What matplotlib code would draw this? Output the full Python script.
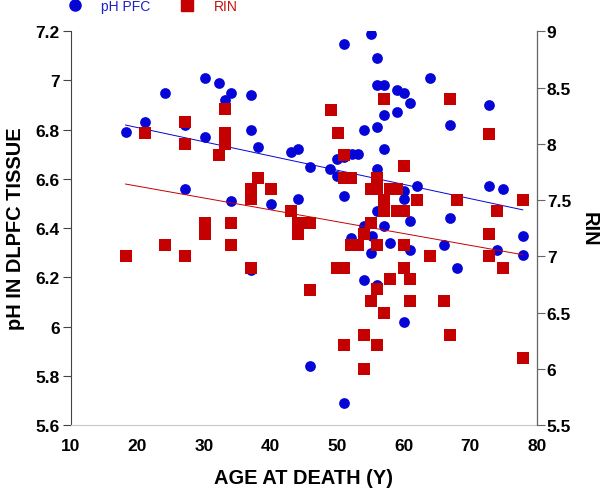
import numpy as np
import matplotlib
matplotlib.use('Agg')
import matplotlib.pyplot as plt
from matplotlib.lines import Line2D

plt.rcParams['font.family'] = ['Liberation Sans', 'DejaVu Sans']

# pH in DLPFC tissue vs age at death
ph_age = [18.2, 21.2, 24.2, 27.1, 27.1, 30.1, 30.1, 32.2, 33.1, 34.1, 34.1, 37.1, 37.1, 38.1,
          37.1, 40.1, 43.1, 44.1, 44.1, 46.0, 46.0, 49.0, 50.0, 50.0, 51.1, 51.1, 51.1, 51.1,
          52.2, 53.2, 52.1, 54.1, 54.1, 54.1, 55.1, 55.2, 55.1, 56.0, 56.0, 56.0, 56.0, 56.0,
          56.0, 57.1, 57.1, 57.0, 57.0, 58.0, 59.0, 59.0, 60.0, 60.0, 60.0, 60.0, 61.0, 61.0,
          61.0, 62.0, 64.0, 66.0, 67.0, 67.0, 68.0, 72.9, 72.9, 74.0, 75.0, 77.9, 77.9]
ph_val = [6.79, 6.83, 6.95, 6.82, 6.56, 7.01, 6.77, 6.99, 6.92, 6.95, 6.51, 6.94, 6.80, 6.73,
          6.23, 6.50, 6.71, 6.72, 6.52, 6.65, 5.84, 6.64, 6.68, 6.61, 6.69, 6.53, 7.15, 5.69,
          6.70, 6.70, 6.36, 6.80, 6.41, 6.19, 7.19, 6.37, 6.30, 7.09, 6.98, 6.81, 6.64, 6.47,
          6.17, 6.98, 6.86, 6.72, 6.41, 6.34, 6.96, 6.87, 6.95, 6.55, 6.52, 6.02, 6.91, 6.43,
          6.31, 6.57, 7.01, 6.33, 6.82, 6.44, 6.24, 6.90, 6.57, 6.31, 6.56, 6.37, 6.29]

# RIN vs age at death
rin_age = [18.2, 21.2, 24.1, 27.1, 27.1, 27.1, 30.1, 30.1, 32.2, 33.1, 33.1, 33.1, 34.1, 34.1,
           37.1, 37.1, 37.1, 38.1, 40.1, 43.0, 44.1, 44.1, 46.0, 46.0, 49.1, 50.1, 50.0, 51.1,
           51.1, 51.1, 51.1, 52.1, 52.1, 53.1, 54.1, 54.1, 54.1, 55.1, 55.1, 55.1, 56.0, 56.0,
           56.0, 56.0, 56.0, 57.0, 57.0, 57.0, 57.0, 58.0, 58.0, 59.0, 59.0, 60.0, 60.0, 60.0,
           60.0, 61.0, 61.0, 62.0, 64.0, 66.0, 67.0, 67.0, 68.0, 72.9, 72.9, 72.9, 74.0, 74.9,
           77.9, 77.9]
rin_val = [7.00, 8.10, 7.10, 8.19, 8.00, 7.00, 7.30, 7.20, 7.90, 8.31, 8.10, 8.00, 7.30, 7.10,
           7.60, 7.51, 6.90, 7.70, 7.60, 7.40, 7.30, 7.20, 7.30, 6.70, 8.30, 8.10, 6.90, 7.90,
           7.70, 6.90, 6.21, 7.70, 7.10, 7.10, 7.20, 6.30, 6.00, 7.60, 7.30, 6.60, 7.70, 7.60,
           7.10, 6.71, 6.21, 8.40, 7.50, 7.40, 6.50, 7.60, 6.80, 7.60, 7.40, 7.80, 7.40, 7.10,
           6.90, 6.80, 6.60, 7.50, 7.00, 6.60, 8.40, 6.30, 7.50, 8.09, 7.20, 7.00, 7.40, 6.90,
           7.50, 6.10]

ph_ticks = [5.6, 5.8, 6, 6.2, 6.4, 6.6, 6.8, 7, 7.2]
rin_ticks = [5.5, 6, 6.5, 7, 7.5, 8, 8.5, 9]
age_ticks = [10, 20, 30, 40, 50, 60, 70, 80]

blue = '#0505d8'
red = '#c40000'

fig = plt.figure(figsize=(6, 4.89), dpi=100)
ax = fig.add_axes([0.1183, 0.1288, 0.7762, 0.8052])
ax2 = ax.twinx()

ax.scatter(ph_age, ph_val, s=60, color=blue, marker='o', linewidths=0, zorder=3)
ax2.scatter(rin_age, rin_val, s=70, color=red, marker='s', linewidths=0, zorder=3)

# linear fits
xs = np.array([min(ph_age), max(ph_age)])
k, b = np.polyfit(ph_age, ph_val, 1)
ax.plot(xs, k * xs + b, color=blue, lw=0.7, zorder=4)
xs2 = np.array([min(rin_age), max(rin_age)])
k2, b2 = np.polyfit(rin_age, rin_val, 1)
ax2.plot(xs2, k2 * xs2 + b2, color=red, lw=0.7, zorder=2)

ax.set_xlim(10, 80)
ax.set_ylim(5.6, 7.2)
ax2.set_ylim(5.5, 9)
ax.set_xticks(age_ticks)
ax.set_yticks(ph_ticks)
ax.set_yticklabels(['%g' % t for t in ph_ticks])
ax2.set_yticks(rin_ticks)
ax2.set_yticklabels(['%g' % t for t in rin_ticks])

for a in (ax, ax2):
    a.spines['top'].set_visible(False)
    a.tick_params(labelsize=12.5)
    for lab in a.get_xticklabels() + a.get_yticklabels():
        lab.set_fontweight('bold')
ax.spines['left'].set_color('#444444')
ax.spines['bottom'].set_color('#c8c8c8')
ax2.spines['right'].set_color('#666666')
ax2.spines['left'].set_visible(False)
ax2.spines['bottom'].set_visible(False)
ax.tick_params(axis='x', length=0, pad=9)
ax.tick_params(axis='y', length=5.5, color='#444444', pad=2.5)
ax2.tick_params(axis='y', length=5.5, color='#666666', pad=1.8)

ax.set_xlabel('AGE AT DEATH (Y)', fontsize=14.4, fontweight='bold', labelpad=11)
ax.set_ylabel('pH IN DLPFC TISSUE', fontsize=14.4, fontweight='bold', labelpad=8)
ax2.set_ylabel('RIN', fontsize=14.4, fontweight='bold', rotation=270, labelpad=20)

handles = [Line2D([], [], marker='o', ls='', color=blue, markersize=8),
           Line2D([], [], marker='s', ls='', color=red, markersize=8)]
leg = fig.legend(handles, ['pH PFC', 'RIN'], loc='upper left', bbox_to_anchor=(0.081, 1.025),
                 ncol=2, frameon=False, fontsize=10, handletextpad=0.9, columnspacing=1.64)
leg.get_texts()[0].set_color('#2020c8')
leg.get_texts()[1].set_color('#c81010')

fig.savefig('out.png', dpi=100)
